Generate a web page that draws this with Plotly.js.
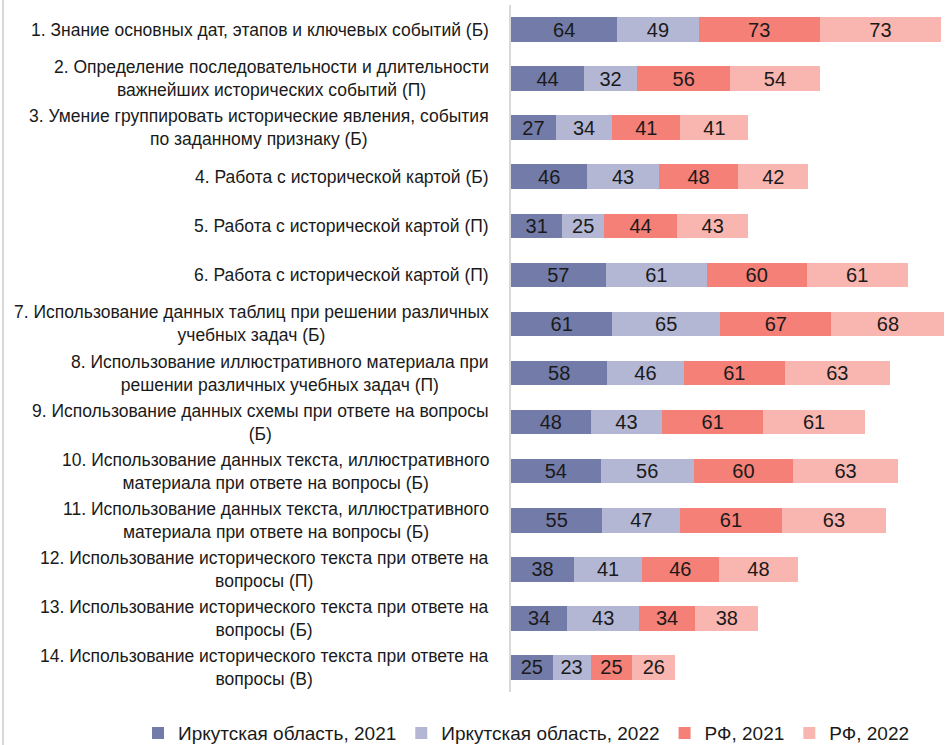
<!DOCTYPE html>
<html><head><meta charset="utf-8">
<script src="https://cdn.plot.ly/plotly-3.0.1.min.js"></script>
<style>html,body{margin:0;padding:0;background:#fff}</style>
</head><body>
<div id="chart" style="width:946px;height:745px"></div>
<script>
const categories = [
  "1. Знание основных дат, этапов и ключевых событий (Б)",
  "2. Определение последовательности и длительности<br>важнейших исторических событий (П)",
  "3. Умение группировать исторические явления, события<br>по заданному признаку (Б)",
  "4. Работа с исторической картой (Б)",
  "5. Работа с исторической картой (П)",
  "6. Работа с исторической картой (П)",
  "7. Использование данных таблиц при решении различных<br>учебных задач (Б)",
  "8. Использование иллюстративного материала при<br>решении различных учебных задач (П)",
  "9. Использование данных схемы при ответе на вопросы<br>(Б)",
  "10. Использование данных текста, иллюстративного<br>материала при ответе на вопросы (Б)",
  "11. Использование данных текста, иллюстративного<br>материала при ответе на вопросы (Б)",
  "12. Использование исторического текста при ответе на<br>вопросы (П)",
  "13. Использование исторического текста при ответе на<br>вопросы (Б)",
  "14. Использование исторического текста при ответе на<br>вопросы (В)"
];
const seriesNames = ["Иркутская область, 2021", "Иркутская область, 2022", "РФ, 2021", "РФ, 2022"];
const irk2021 = [64, 44, 27, 46, 31, 57, 61, 58, 48, 54, 55, 38, 34, 25];
const irk2022 = [49, 32, 34, 43, 25, 61, 65, 46, 43, 56, 47, 41, 43, 23];
const rf2021  = [73, 56, 41, 48, 44, 60, 67, 61, 61, 60, 61, 46, 34, 25];
const rf2022  = [73, 54, 41, 42, 43, 61, 68, 63, 61, 63, 63, 48, 38, 26];
const colors = ["#737BA9", "#B3B7D4", "#F48078", "#F9B5B0"];

const FONT = '"Liberation Sans", Arial, sans-serif';
const ids = categories.map((c, i) => "c" + i);
const values = [irk2021, irk2022, rf2021, rf2022];
const traces = values.map((v, k) => ({
  type: "bar", orientation: "h",
  y: ids, x: v, name: seriesNames[k],
  marker: {color: colors[k], line: {width: 0}},
  text: v.map(String), textposition: "inside", insidetextanchor: "middle", textangle: 0,
  textfont: {family: FONT, size: 20, color: "#1a1a1a"},
  hoverinfo: "none", width: 0.5
}));

const annotations = categories.map((c, i) => ({
  xref: "paper", yref: "y", x: 0, y: ids[i], xanchor: "right", yanchor: "middle",
  xshift: -20, text: c, showarrow: false, align: "center",
  font: {family: FONT, size: 17.5, color: "#1a1a1a"}
}));

const layout = {
  width: 946, height: 745,
  margin: {l: 511, r: 0, t: 5, b: 53, autoexpand: false},
  barmode: "stack", bargap: 0.5,
  paper_bgcolor: "#fff", plot_bgcolor: "#fff",
  font: {family: FONT},
  xaxis: {range: [0, 262], visible: false, fixedrange: true},
  yaxis: {autorange: "reversed", showticklabels: false, ticks: "", showgrid: false,
          showline: true, linecolor: "#d9d9d9", linewidth: 2, zeroline: false},
  uniformtext: {minsize: 20, mode: "show"},
  showlegend: true,
  legend: {orientation: "h", traceorder: "normal", xref: "paper", yref: "paper",
           x: (138 - 511) / 435, y: -0.06,
           xanchor: "left", yanchor: "middle", font: {family: FONT, size: 19, color: "#1a1a1a"},
           itemwidth: 30, tracegroupgap: 0},
  annotations: annotations,
  shapes: [{type: "line", xref: "paper", yref: "paper", x0: -508/435, x1: -508/435, y0: -0.08, y1: 1.01,
            line: {color: "#d9d9d9", width: 2}}]
};
Plotly.newPlot("chart", traces, layout, {displayModeBar: false, staticPlot: true});
</script>
</body></html>
